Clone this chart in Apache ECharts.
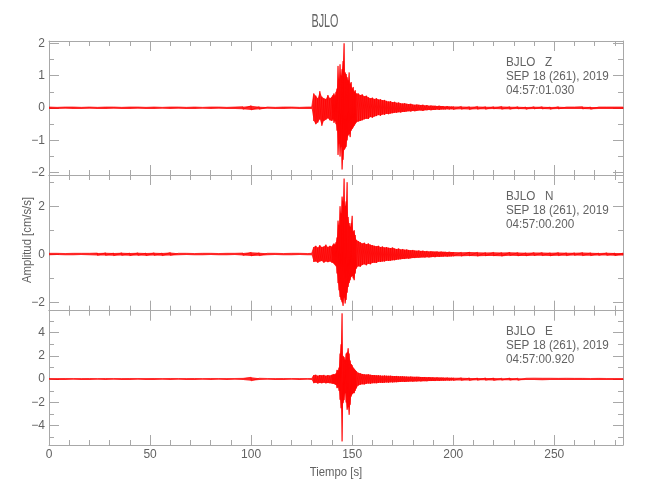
<!DOCTYPE html>
<html>
<head>
<meta charset="utf-8">
<script src="https://cdn.jsdelivr.net/npm/echarts@6/dist/echarts.min.js"></script>
<style>html,body{margin:0;padding:0;background:#fff}#c{width:650px;height:500px}</style>
</head>
<body>
<div id="c"></div>
<script>
// ---- data (envelope of each trace per time bin) ----
const times = [
0,4,8,12,16,20,24,28,32,36,40,44,48,52,56,60,64,68,72,76,80,84,88,92,96,100,104,108,112,116,120,124,128,
130,131,132,133,134,135,136,137,138,139,140,
140.5,141,141.5,142,142.5,143,143.5,144,144.5,145,145.5,146,146.5,147,147.5,148,148.5,149,149.5,150,150.5,151,151.5,152,
153,154,155,156,157,158,159,160,161,162,163,164,165,166,167,168,169,170,171,172,173,174,175,176,177,178,179,180,181,182,183,184,185,186,187,188,189,190,191,192,193,194,195,196,197,198,199,200,
204,208,212,216,220,224,228,232,236,240,244,248,252,256,260,264,268,272,276,280,284
];

const zUp = [
0.03,0.02,0.03,0.03,0.02,0.03,0.02,0.03,0.03,0.02,0.03,
0.03,0.02,0.03,0.02,0.03,0.03,0.02,0.03,0.02,0.03,0.03,
0.02,0.03,0.04,0.07,0.04,0.03,0.02,0.03,0.03,0.02,0.03,
0.03,0.45,0.38,0.3,0.52,0.35,0.3,0.28,0.4,0.3,0.35,
0.4,0.45,0.38,0.5,0.6,1.3,0.9,1.35,1.0,1.2,1.45,2.0,1.1,1.05,0.95,0.85,1.1,0.75,0.8,0.6,0.65,0.5,0.55,0.45,
0.45,0.4,0.42,0.36,0.38,0.33,0.3,0.32,0.28,0.3,0.26,0.27,0.24,0.25,0.22,0.2,0.21,0.18,0.19,0.16,0.17,0.15,0.14,0.15,0.13,0.12,0.13,0.11,0.1,0.11,0.1,0.09,0.1,0.08,0.09,0.07,0.08,0.07,0.07,0.06,0.07,0.06,0.06,0.05,0.06,0.05,0.05,0.05,
0.05,0.04,0.05,0.04,0.04,0.05,0.04,0.04,0.03,0.04,0.04,0.03,0.04,0.03,0.03,0.04,0.03,0.03,0.03,0.03,0.03
];
const zLo = [
-0.03,-0.03,-0.02,-0.03,-0.03,-0.02,-0.03,-0.03,-0.02,-0.03,-0.03,
-0.02,-0.03,-0.03,-0.02,-0.03,-0.02,-0.03,-0.03,-0.02,-0.03,-0.02,
-0.03,-0.03,-0.04,-0.06,-0.04,-0.02,-0.03,-0.03,-0.02,-0.03,-0.03,
-0.03,-0.4,-0.5,-0.45,-0.35,-0.55,-0.4,-0.36,-0.32,-0.38,-0.4,
-0.35,-0.46,-0.4,-0.5,-0.7,-1.45,-1.1,-1.5,-1.2,-1.9,-1.6,-1.3,-1.25,-1.2,-1.0,-0.85,-0.8,-0.9,-0.7,-0.65,-0.6,-0.55,-0.5,-0.45,
-0.42,-0.4,-0.38,-0.35,-0.33,-0.34,-0.28,-0.3,-0.26,-0.25,-0.22,-0.24,-0.2,-0.21,-0.18,-0.19,-0.17,-0.16,-0.15,-0.15,-0.13,-0.14,-0.12,-0.12,-0.11,-0.1,-0.11,-0.09,-0.1,-0.09,-0.08,-0.08,-0.09,-0.07,-0.07,-0.06,-0.07,-0.06,-0.06,-0.05,-0.06,-0.05,-0.05,-0.05,-0.04,-0.05,-0.04,-0.05,
-0.04,-0.05,-0.04,-0.04,-0.03,-0.04,-0.04,-0.03,-0.04,-0.03,-0.03,-0.04,-0.03,-0.03,-0.03,-0.03,-0.04,-0.03,-0.03,-0.03,-0.03
];

const nUp = [
0.04,0.04,0.03,0.04,0.04,0.04,0.05,0.06,0.05,0.06,0.05,
0.06,0.05,0.06,0.05,0.07,0.04,0.04,0.03,0.04,0.04,0.03,
0.04,0.04,0.05,0.08,0.06,0.04,0.04,0.03,0.04,0.04,0.03,
0.04,0.3,0.35,0.28,0.38,0.3,0.32,0.4,0.3,0.35,0.32,
0.4,0.45,0.4,0.5,0.7,1.4,1.2,2.0,1.7,2.4,2.2,3.15,2.0,2.2,3.0,1.55,1.3,1.14,1.3,1.6,0.95,1.0,0.8,0.6,
0.55,0.5,0.45,0.48,0.42,0.45,0.4,0.38,0.35,0.33,0.35,0.3,0.32,0.28,0.3,0.27,0.26,0.28,0.24,0.22,0.24,0.2,0.22,0.19,0.2,0.18,0.17,0.18,0.16,0.15,0.16,0.14,0.15,0.13,0.14,0.12,0.13,0.12,0.11,0.12,0.1,0.11,0.1,0.1,0.09,0.1,0.09,0.09,
0.08,0.09,0.08,0.07,0.08,0.07,0.08,0.07,0.06,0.07,0.07,0.06,0.07,0.06,0.06,0.07,0.06,0.05,0.06,0.05,0.05
];
const nLo = [
-0.04,-0.03,-0.04,-0.04,-0.03,-0.04,-0.05,-0.05,-0.06,-0.05,-0.06,
-0.05,-0.06,-0.05,-0.06,-0.05,-0.04,-0.03,-0.04,-0.04,-0.03,-0.04,
-0.04,-0.03,-0.05,-0.07,-0.06,-0.04,-0.03,-0.04,-0.04,-0.03,-0.04,
-0.04,-0.32,-0.3,-0.35,-0.3,-0.28,-0.35,-0.3,-0.33,-0.3,-0.35,
-0.35,-0.4,-0.45,-0.5,-0.8,-1.2,-1.5,-1.78,-1.9,-2.0,-2.15,-1.8,-2.05,-1.9,-1.6,-1.36,-1.2,-1.08,-0.95,-0.9,-1.0,-1.08,-0.8,-0.6,
-0.5,-0.52,-0.45,-0.42,-0.46,-0.4,-0.42,-0.36,-0.35,-0.36,-0.31,-0.32,-0.3,-0.3,-0.27,-0.28,-0.27,-0.25,-0.25,-0.23,-0.22,-0.21,-0.2,-0.2,-0.18,-0.19,-0.17,-0.16,-0.16,-0.15,-0.15,-0.14,-0.13,-0.14,-0.12,-0.13,-0.12,-0.11,-0.12,-0.1,-0.11,-0.1,-0.1,-0.09,-0.1,-0.09,-0.09,-0.08,
-0.08,-0.07,-0.08,-0.07,-0.07,-0.08,-0.06,-0.07,-0.07,-0.06,-0.06,-0.07,-0.06,-0.06,-0.05,-0.06,-0.06,-0.05,-0.05,-0.06,-0.05
];

const eUp = [
0.06,0.05,0.06,0.06,0.05,0.06,0.05,0.06,0.06,0.05,0.06,
0.06,0.05,0.06,0.05,0.06,0.06,0.05,0.06,0.05,0.06,0.06,
0.05,0.06,0.07,0.16,0.08,0.06,0.05,0.06,0.06,0.05,0.06,
0.06,0.35,0.38,0.3,0.36,0.33,0.37,0.3,0.35,0.32,0.38,
0.4,0.45,0.4,0.5,0.8,0.75,1.0,2.2,3.0,5.66,2.0,1.9,1.66,2.2,2.3,2.66,2.2,1.6,1.3,1.2,1.0,0.9,0.8,0.7,
0.55,0.5,0.45,0.42,0.4,0.42,0.38,0.36,0.35,0.33,0.34,0.32,0.3,0.32,0.3,0.29,0.3,0.28,0.27,0.28,0.26,0.25,0.26,0.24,0.23,0.22,0.23,0.21,0.2,0.21,0.2,0.19,0.18,0.19,0.17,0.18,0.16,0.17,0.15,0.16,0.14,0.15,0.14,0.13,0.14,0.12,0.13,0.12,
0.12,0.11,0.1,0.11,0.1,0.09,0.1,0.09,0.08,0.09,0.08,0.08,0.07,0.08,0.07,0.07,0.06,0.07,0.06,0.06,0.06
];
const eLo = [
-0.05,-0.06,-0.06,-0.05,-0.06,-0.06,-0.05,-0.06,-0.05,-0.06,-0.06,
-0.05,-0.06,-0.06,-0.05,-0.06,-0.05,-0.06,-0.06,-0.05,-0.06,-0.05,
-0.06,-0.05,-0.07,-0.14,-0.08,-0.05,-0.06,-0.06,-0.05,-0.06,-0.05,
-0.06,-0.34,-0.3,-0.37,-0.32,-0.35,-0.3,-0.36,-0.33,-0.35,-0.38,
-0.4,-0.4,-0.45,-0.5,-0.77,-0.7,-1.0,-1.77,-2.5,-5.35,-2.06,-1.8,-1.2,-2.0,-2.63,-2.4,-3.06,-2.2,-1.49,-1.3,-1.2,-1.2,-1.0,-0.8,
-0.55,-0.48,-0.44,-0.45,-0.4,-0.38,-0.4,-0.35,-0.34,-0.35,-0.32,-0.31,-0.32,-0.3,-0.28,-0.3,-0.27,-0.28,-0.26,-0.26,-0.25,-0.24,-0.23,-0.24,-0.22,-0.21,-0.2,-0.21,-0.19,-0.2,-0.18,-0.19,-0.17,-0.17,-0.18,-0.16,-0.16,-0.15,-0.16,-0.14,-0.15,-0.13,-0.14,-0.13,-0.12,-0.13,-0.12,-0.12,
-0.11,-0.12,-0.1,-0.1,-0.11,-0.09,-0.09,-0.1,-0.08,-0.08,-0.09,-0.07,-0.08,-0.07,-0.07,-0.06,-0.07,-0.06,-0.06,-0.06,-0.06
];

// ---- axes / labels ----
const xMin = 0, xMax = 284;
const xMajor = [0, 50, 100, 150, 200, 250];
const xMinor = [10,20,30,40,60,70,80,90,110,120,130,140,160,170,180,190,210,220,230,240,260,270,280];
const yRanges = [[-2.07, 2.07], [-2.35, 3.30], [-5.66, 5.89]];
const yMajor = [[-2, -1, 0, 1, 2], [-2, 0, 2], [-4, -2, 0, 2, 4]];
const yMinor = [[-1.5, -0.5, 0.5, 1.5], [-1, 1, 3], [-5, -3, -1, 1, 3, 5]];
const titleText = 'BJLO';
const stationLabels = ['BJLO   Z', 'BJLO   N', 'BJLO   E'];
const dateLabel = 'SEP 18 (261), 2019';
const startTimes = ['04:57:01.030', '04:57:00.200', '04:57:00.920'];
const xName = 'Tiempo [s]';
const yName = 'Amplitud [cm/s/s]';
const traces = [[zUp, zLo], [nUp, nLo], [eUp, eLo]];

// ---- styling / layout ----
const FONT = "'Liberation Sans',Arial,sans-serif";
const axisColor = '#a8a8a8';
const textColor = '#626262';
const panels = [{ top: 41, height: 134 }, { top: 175, height: 135.7 }, { top: 310.7, height: 134.3 }];
const left = 49, right = 27;

const fmt = v => (v < 0 ? '\u2212' + Math.abs(v) : String(v));

const grid = [], xAxis = [], yAxis = [], series = [], graphic = [];
panels.forEach((p, i) => {
  grid.push({ left: left, right: right, top: p.top, height: p.height, outerBoundsMode: 'none', containLabel: false });
  const mkX = (pos, ticks, len, line, labels) => ({
    gridIndex: i, type: 'value', min: xMin, max: xMax, position: pos,
    axisLine: { show: line, onZero: false, lineStyle: { color: axisColor, width: 1 } },
    splitLine: { show: false },
    axisTick: { show: true, inside: true, length: len, customValues: ticks, lineStyle: { color: axisColor } },
    axisLabel: labels ? { show: true, customValues: xMajor, margin: 4, color: textColor, fontSize: 12, fontFamily: FONT } : { show: false }
  });
  xAxis.push(mkX('bottom', xMajor, 10, true, i === 2));
  xAxis.push(mkX('bottom', xMinor, 5, false, false));
  xAxis.push(mkX('top', xMajor, 10, true, false));
  xAxis.push(mkX('top', xMinor, 5, false, false));
  const mkY = (pos, ticks, len, line, labels) => ({
    gridIndex: i, type: 'value', min: yRanges[i][0], max: yRanges[i][1], position: pos,
    axisLine: { show: line, onZero: false, lineStyle: { color: axisColor, width: 1 } },
    splitLine: { show: false },
    axisTick: { show: true, inside: true, length: len, customValues: ticks, lineStyle: { color: axisColor } },
    axisLabel: labels ? { show: true, customValues: yMajor[i], formatter: fmt, margin: 4, color: textColor, fontSize: 12, fontFamily: FONT } : { show: false }
  });
  yAxis.push(mkY('left', yMajor[i], 10, true, true));
  yAxis.push(mkY('left', yMinor[i], 5, false, false));
  yAxis.push(mkY('right', yMajor[i], 10, true, false));
  yAxis.push(mkY('right', yMinor[i], 5, false, false));

  const [up, lo] = traces[i];
  // envelope band as one polygon, positioned through the axes (api.coord)
  const envData = times.map((t, k) => [t, lo[k], up[k]]);
  series.push({
    type: 'custom', xAxisIndex: i * 4, yAxisIndex: i * 4, data: envData,
    encode: { x: 0, y: [1, 2] }, silent: true, z: 2, clip: true,
    renderItem: (params, api) => {
      if (params.dataIndex !== 0) return null;
      const top = envData.map(d => api.coord([d[0], d[2]]));
      const bot = envData.slice().reverse().map(d => api.coord([d[0], d[1]]));
      return {
        type: 'polygon', shape: { points: top.concat(bot) },
        style: { fill: 'rgba(255,0,0,0.85)', stroke: null }
      };
    }
  });
  // oscillation trace between the envelope edges
  const data = [];
  times.forEach((t, k) => { data.push([t, up[k]]); data.push([t, lo[k]]); });
  series.push({
    type: 'line', xAxisIndex: i * 4, yAxisIndex: i * 4, data: data,
    showSymbol: false, symbol: 'none', clip: true, z: 3,
    lineStyle: { color: '#ff0000', width: 0.7 }, itemStyle: { color: '#ff0000' }
  });

  const lines = [stationLabels[i], dateLabel, startTimes[i]];
  lines.forEach((s, j) => {
    graphic.push({ type: 'text', x: 506, y: p.top + 21 + j * 14, scaleX: 0.9,
      style: { text: s, fill: textColor, font: '13px ' + FONT, textAlign: 'left', textVerticalAlign: 'middle' } });
  });
});

graphic.push({ type: 'text', x: 325, y: 22, scaleX: 0.6, style: { text: titleText, fill: textColor, font: '18px ' + FONT, textAlign: 'center', textVerticalAlign: 'middle' } });
graphic.push({ type: 'text', x: 336, y: 472, scaleX: 0.87, style: { text: xName, fill: textColor, font: '13px ' + FONT, textAlign: 'center', textVerticalAlign: 'middle' } });
graphic.push({ type: 'text', x: 27, y: 240, rotation: Math.PI / 2, scaleX: 0.87, style: { text: yName, fill: textColor, font: '13px ' + FONT, textAlign: 'center', textVerticalAlign: 'middle' } });

const chart = echarts.init(document.getElementById('c'), null, { renderer: 'canvas' });
chart.setOption({ animation: false, backgroundColor: '#ffffff', grid, xAxis, yAxis, series, graphic });
</script>
</body>
</html>
